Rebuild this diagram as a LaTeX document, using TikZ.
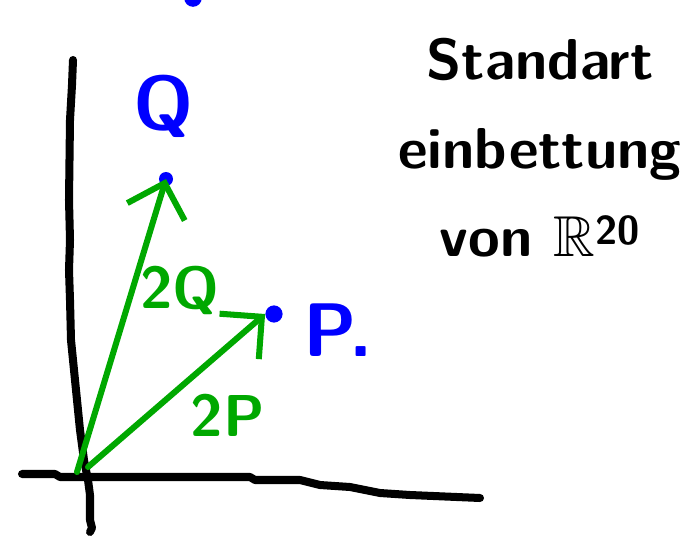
\documentclass[tikz,border=0pt]{standalone}
\usepackage{amssymb}
\usepackage{xcolor}
\usetikzlibrary{arrows.meta,positioning}

\definecolor{penblue}{RGB}{0,0,255}
\definecolor{pengreen}{RGB}{0,168,0}

\tikzset{
    axis/.style={line width=5.7pt, line cap=round, line join=round, black},
    vec/.style={line width=4.3pt, line cap=round, line join=round, pengreen,
        -{Straight Barb[length=0.75cm, width=1.5cm, line width=4.3pt]}},
    dotnode/.style={circle, fill=penblue, inner sep=0pt},
    ptlabel/.style={text=penblue, font=\sffamily\bfseries\fontsize{54}{58}\selectfont},
    veclabel/.style={text=pengreen, font=\sffamily\bfseries\fontsize{42}{46}\selectfont}
}

\begin{document}
\begin{tikzpicture}[x=0.025cm, y=-0.025cm]
    \useasboundingbox (0,0) rectangle (687,539);

    % Axes
    \draw[axis] (73,60) -- (72,85) -- (70,120) -- (69,200) -- (70,240) -- (69,270)
        -- (70,300) -- (71,340) -- (76,390) -- (80,430) -- (84,460) -- (88,480)
        -- (90,495) -- (90,520) -- (92,528) -- (90,532);
    \draw[axis] (22,474) -- (55,474) -- (60,477) -- (250,477) -- (255,480)
        -- (300,480) -- (320,485) -- (350,487) -- (380,493) -- (410,495) -- (480,498);

    % Points
    \node[dotnode, minimum size=0.35cm] (qdot) at (166,179) {};
    \node[dotnode, minimum size=0.43cm] (pdot) at (274,314) {};
    \fill[penblue] (193,-2) circle (0.22cm);

    \node[ptlabel] (qlabel) at (164,106) {Q};
    \node[ptlabel] (plabel) at (338,330) {P.};

    % Vectors
    \coordinate (origq) at (77,472);
    \coordinate (origp) at (88,467);
    \draw[vec] (origq) -- (qdot.center);
    \draw[vec] (origp) -- (pdot.west);

    \node[veclabel] (twoq) at (180,290) {2Q};
    \node[veclabel] (twop) at (228,415) {2P};

    % Title
    \node[align=center, font=\sffamily\bfseries\fontsize{41}{63}\selectfont] (title) at (540,148)
        {Standart\\einbettung\\von $\mathbb{R}$\textsuperscript{20}};
\end{tikzpicture}
\end{document}
